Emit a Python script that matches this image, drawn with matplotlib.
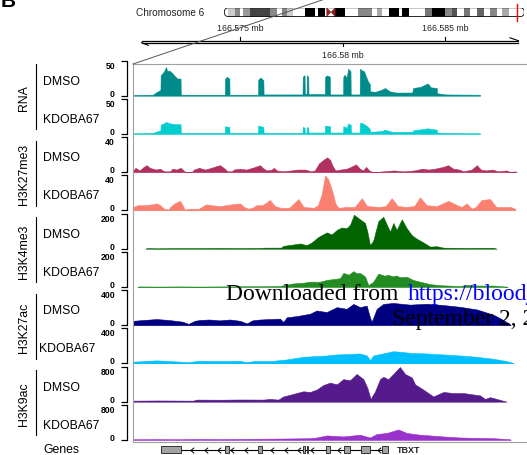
import matplotlib
matplotlib.use('Agg')
import matplotlib.pyplot as plt
from matplotlib.patches import FancyBboxPatch, Polygon
import numpy as np

plt.rcParams['font.family'] = ['Liberation Sans', 'DejaVu Sans']

# ---- data --------------------------------------------------------------
# positions are kb offsets from chr6:166,570,000
chrom_start_mb = 166.570
view_kb = (-0.22, 19.0)

rna_dmso_pos = [-0.2, 0.75, 0.9, 1.12, 1.13, 1.3, 1.39, 1.45, 1.55, 1.7, 1.85, 1.95, 2.1, 2.11,
                4.26, 4.27, 4.35, 4.48, 4.49, 5.88, 5.89, 6.0, 6.14, 6.15,
                8.05, 8.06, 8.12, 8.15, 8.16, 8.25, 8.26, 8.33, 8.34, 9.14, 9.15, 9.25, 9.38, 9.39,
                10.03, 10.04, 10.1, 10.2, 10.28, 10.39, 10.4, 10.84, 10.85, 10.95, 11.05, 11.15,
                11.25, 11.33, 11.34, 11.6, 11.9, 12.07, 12.3, 12.6, 13.4, 13.45, 13.8, 14.16,
                14.3, 14.6, 14.61, 15.0, 16.7, 16.71]
rna_dmso_val = [0.9, 1.4, 4.5, 8.4, 29, 35, 41, 35, 36, 32, 27, 24.5, 24.5, 1.4,
                1.4, 24, 27, 24.5, 1.4, 1.4, 23, 26, 22, 1.8,
                1.8, 27, 29, 29, 2.8, 2.8, 29, 27, 2.3, 2.3, 27, 29, 27, 1.8,
                1.8, 27, 30, 26, 38.5, 35, 1.8, 1.8, 38.5, 36, 35, 27,
                20, 17, 6.3, 5.6, 8.4, 11, 6.3, 4.5, 4.5, 11, 12.6, 17.5,
                12, 11, 3.5, 1.8, 1.4, 0]

rna_kdo_pos = [-0.2, 0.75, 0.9, 1.12, 1.13, 1.39, 1.6, 1.8, 2.1, 2.11,
               4.26, 4.27, 4.48, 4.49, 5.88, 5.89, 6.14, 6.15,
               8.05, 8.06, 8.15, 8.16, 8.25, 8.26, 8.33, 8.34,
               9.14, 9.15, 9.39, 9.4, 10.03, 10.04, 10.2, 10.28, 10.4, 10.41,
               10.84, 10.85, 11.0, 11.2, 11.33, 11.34, 11.9, 12.07, 12.4, 13.4, 13.45,
               14.16, 14.6, 14.61, 15.0, 16.7, 16.71]
rna_kdo_val = [1, 1.5, 3, 5, 13, 17, 15, 14, 14, 1.5,
               1.5, 11, 10, 1.5, 1.5, 12, 10, 1.5,
               1.5, 10, 9, 2, 2, 10, 9, 2,
               2, 12, 11, 2, 2, 11, 9, 15, 13, 2,
               2, 16, 15, 11, 7, 3, 4, 6, 3, 3, 5,
               8, 6, 2, 1.5, 1, 0]

k27me3_dmso_pos = [-0.2, -0.1, 0.1, 0.3, 0.45, 0.6, 0.9, 1.1, 1.3, 1.6, 1.7, 1.9, 2.1, 2.25, 2.35,
                   2.65, 2.75, 3.0, 3.3, 3.6, 3.85, 4.02, 4.2, 4.4, 4.6, 4.7, 5.0, 5.3, 5.6, 5.85,
                   5.98, 6.1, 6.3, 6.55, 6.65, 6.8, 7.1, 7.5, 7.8, 8.2, 8.45, 8.65, 8.85, 9.06,
                   9.25, 9.4, 9.5, 9.65, 9.9, 10.2, 10.5, 10.65, 10.85, 11.0, 11.15, 11.3, 11.5,
                   12.0, 12.5, 13.0, 13.5, 13.9, 14.2, 14.5, 14.9, 15.15, 15.4, 15.7, 15.9, 16.3,
                   16.55, 16.75, 17.0, 17.3, 17.6, 18.0, 18.2, 18.4, 18.5]
k27me3_dmso_val = [2, 5, 2, 6, 8, 5, 3, 4, 1, 1, 4, 3, 5, 2, 0,
                   0, 3, 5, 3, 5, 7, 8, 5, 1, 1, 3, 4, 3, 5, 7,
                   8, 5, 2, 3, 5, 2, 1, 2, 3, 3, 1, 2, 10, 14,
                   17, 14, 8, 2, 3, 4, 7, 9, 4, 2, 6, 2, 0,
                   1, 2, 1, 2, 4, 3, 4, 6, 8, 4, 3, 1, 3,
                   8, 3, 2, 3, 1, 2, 0, 1, 0]

k27me3_kdo_pos = [-0.2, 0.0, 0.4, 0.7, 0.94, 1.1, 1.3, 1.5, 1.6, 1.8, 2.07, 2.2, 2.3, 2.5, 3.0,
                  3.2, 3.37, 3.6, 4.0, 4.3, 4.6, 5.0, 5.2, 5.4, 5.6, 5.8, 6.1, 6.46, 6.7, 7.0,
                  7.4, 7.85, 8.1, 8.6, 8.8, 8.98, 9.15, 9.3, 9.5, 9.65, 9.8, 10.2, 10.6, 10.94,
                  11.2, 11.8, 12.1, 12.4, 12.7, 13.1, 13.5, 13.78, 14.1, 14.6, 15.16, 15.5,
                  15.8, 16.06, 16.3, 16.5, 16.79, 17.2, 17.5, 18.2, 18.4, 18.45]
k27me3_kdo_val = [4, 6, 6, 7, 8, 6, 2, 1, 4, 8, 11, 6, 1, 2, 2,
                  5, 7, 6, 5, 6, 7, 8, 4, 2, 3, 6, 6, 12, 5, 3,
                  3, 13, 4, 3, 6, 18, 40, 36, 22, 8, 3, 4, 4, 14,
                  5, 4, 5, 14, 5, 4, 5, 15, 6, 5, 11, 7,
                  4, 8, 2, 4, 12, 13, 4, 4, 2, 0]

k4me3_dmso_pos = [0.4, 0.45, 1.0, 2.0, 3.0, 4.0, 5.0, 6.0, 6.2, 7.0, 7.11, 7.6, 7.93, 8.25, 8.5,
                  8.82, 9.23, 9.47, 9.72, 9.96, 10.2, 10.37, 10.56, 10.85, 11.1, 11.21, 11.34,
                  11.5, 11.75, 11.99, 12.16, 12.32, 12.48, 12.64, 12.89, 13.13, 13.38, 13.62,
                  13.94, 14.27, 14.6, 14.92, 16.0, 17.36, 17.52]
k4me3_dmso_val = [0, 3, 2, 3, 3, 4, 3, 4, 6, 6, 16, 24, 30, 20, 36,
                  67, 93, 81, 107, 121, 117, 137, 194, 168, 147, 97, 20,
                  46, 158, 182, 137, 97, 147, 107, 168, 117, 77, 57,
                  36, 12, 14, 6, 4, 5, 0]

k4me3_kdo_pos = [0.0, 0.1, 1.0, 2.0, 3.0, 4.0, 5.0, 5.98, 6.95, 7.11, 7.6, 8.09, 8.41, 8.9, 9.23,
                 9.88, 10.04, 10.3, 10.53, 10.69, 10.85, 11.1, 11.26, 11.5, 11.75, 12.07, 12.2,
                 12.48, 12.6, 12.8, 13.13, 13.45, 13.78, 14.27, 14.76, 15.73, 16.06, 16.5,
                 17.36, 18.0, 18.05]
k4me3_kdo_val = [0, 3, 2, 3, 2, 3, 4, 4, 5, 10, 20, 24, 30, 30, 40,
                 50, 80, 70, 90, 78, 80, 60, 10, 30, 76, 64, 70,
                 60, 66, 56, 58, 40, 30, 16, 10, 5, 12, 8,
                 8, 2, 0]

k27ac_dmso_pos = [-0.2, 0.3, 0.94, 1.5, 2.2, 2.48, 2.8, 3.05, 3.5, 4.0, 4.5, 5.0, 5.33, 5.6, 5.98,
                  6.46, 6.95, 7.11, 7.28, 7.8, 8.41, 8.74, 9.23, 9.72, 10.2, 10.53, 10.85, 11.18,
                  11.3, 11.42, 11.67, 11.99, 12.48, 13.29, 14.11, 14.92, 15.73, 16.55, 17.36,
                  17.84, 18.17, 18.2]
k27ac_dmso_val = [50, 60, 70, 60, 40, 15, 50, 60, 65, 55, 65, 50, 20, 55, 65,
                  70, 75, 37, 90, 105, 131, 168, 150, 206, 187, 243, 206, 224,
                  120, 37, 187, 243, 254, 235, 245, 230, 210, 180, 120,
                  60, 10, 0]

k27ac_kdo_pos = [-0.2, 0.5, 0.94, 1.5, 2.48, 3.0, 4.0, 5.0, 5.33, 5.7, 6.5, 7.28, 8.1, 9.23,
                 9.72, 10.85, 11.18, 11.35, 11.5, 12.48, 13.29, 14.11, 14.92, 15.73, 16.55,
                 17.36, 18.0, 18.3, 18.35]
k27ac_kdo_val = [20, 30, 35, 28, 15, 30, 28, 30, 15, 28, 27, 46, 76, 91,
                 103, 114, 91, 38, 91, 140, 122, 114, 103, 91, 76,
                 53, 27, 8, 0]

k9ac_dmso_pos = [-0.2, 1.0, 2.72, 2.89, 4.0, 5.0, 6.14, 6.46, 6.87, 7.11, 7.44, 7.76, 8.09, 8.41,
                 8.74, 9.06, 9.39, 9.72, 10.04, 10.37, 10.69, 11.02, 11.21, 11.37, 11.59, 11.83,
                 11.99, 12.23, 12.48, 12.8, 13.05, 13.38, 13.54, 13.94, 14.43, 14.92, 15.4,
                 15.89, 16.71, 16.95, 17.2, 17.52, 18.0]
k9ac_dmso_val = [24, 28, 24, 48, 45, 50, 48, 63, 48, 119, 158, 198, 238, 222,
                 277, 380, 436, 396, 515, 491, 634, 515, 317, 63, 238, 515,
                 570, 515, 634, 792, 634, 554, 396, 277, 119, 222, 198,
                 198, 143, 63, 103, 63, 0]

k9ac_kdo_pos = [-0.2, 1.0, 2.0, 3.0, 4.0, 5.0, 6.0, 7.0, 8.41, 8.74, 9.23, 10.04, 10.85, 11.34,
                11.67, 12.16, 12.72, 13.13, 13.78, 14.92, 15.73, 17.36, 18.17, 18.2]
k9ac_kdo_val = [16, 20, 16, 24, 20, 24, 28, 32, 40, 56, 104, 80, 120, 56,
                136, 160, 240, 160, 120, 80, 56, 40, 16, 0]

marks = ['RNA', 'H3K27me3', 'H3K4me3', 'H3K27ac', 'H3K9ac']
samples = ['DMSO', 'KDOBA67']
track_colors = ['#008B8B', '#00CDCD', '#B03060', '#FA8072', '#006400', '#228B22',
                '#000080', '#00BFFF', '#551A8B', '#9932CC']
track_max = [50, 50, 40, 40, 200, 200, 400, 400, 800, 800]
track_data = [(rna_dmso_pos, rna_dmso_val), (rna_kdo_pos, rna_kdo_val),
              (k27me3_dmso_pos, k27me3_dmso_val), (k27me3_kdo_pos, k27me3_kdo_val),
              (k4me3_dmso_pos, k4me3_dmso_val), (k4me3_kdo_pos, k4me3_kdo_val),
              (k27ac_dmso_pos, k27ac_dmso_val), (k27ac_kdo_pos, k27ac_kdo_val),
              (k9ac_dmso_pos, k9ac_dmso_val), (k9ac_kdo_pos, k9ac_kdo_val)]

# TBXT exons (kb), minus strand
exon_start = [1.13, 4.28, 5.89, 8.07, 8.26, 9.18, 10.08, 10.88, 11.92]
exon_end = [2.13, 4.46, 6.05, 8.15, 8.33, 9.37, 10.36, 11.34, 12.2]
gene_name = 'TBXT'

ruler_ticks_kb = [5, 10, 15]

# chromosome 6 ideogram (Mb)
chrom_len = 170.8
band_start = [2.3, 6.1, 10.8, 14.6, 26.0, 32.7, 35.5, 46.0, 53.6, 63.1, 76.4, 86.8, 93.5,
              101.1, 114.4, 118.2, 125.8, 129.6, 136.2, 143.8, 151.4, 158.1]
band_end = [6.1, 8.9, 14.6, 26.0, 29.8, 35.5, 39.3, 51.7, 57.4, 68.8, 84.0, 89.7, 99.2,
            104.9, 118.2, 125.8, 129.6, 132.4, 140.0, 147.6, 155.2, 161.9]
band_color = ['#cccccc', '#888888', '#999999', '#444444', '#888888', '#888888', '#cccccc',
              '#000000', '#000000', '#000000', '#888888', '#aaaaaa', '#000000', '#000000',
              '#777777', '#000000', '#888888', '#555555', '#777777', '#666666', '#888888',
              '#aaaaaa']
centromere = (58.3, 63.1)

# ---- layout ------------------------------------------------------------
W, H = 527, 456
fig = plt.figure(figsize=(W / 100, H / 100), dpi=100)


def rect(x0, y0, x1, y1):
    return [x0 / W, 1 - y1 / H, (x1 - x0) / W, (y1 - y0) / H]


track_top = [61.7 + 38.25 * i for i in range(10)]
track_h = 35
panel_left = 133

# data tracks
for i, (pos, val) in enumerate(track_data):
    top = track_top[i]
    ax = fig.add_axes(rect(panel_left, top, W, top + track_h))
    c = track_colors[i]
    ax.fill_between(pos, val, 0, color=c, edgecolor=c, linewidth=0.4)
    ax.set_xlim(view_kb)
    ax.set_ylim(0, track_max[i])
    ax.patch.set_alpha(0)
    for s in ['top', 'right', 'bottom']:
        ax.spines[s].set_visible(False)
    ax.spines['left'].set_position(('outward', 4))
    ax.spines['left'].set_bounds(0, track_max[i])
    ax.spines['left'].set_linewidth(0.9)
    ax.set_xticks([])
    ax.set_yticks([0, track_max[i]])
    ax.set_yticklabels(['0', str(track_max[i])], fontsize=6.2, fontweight='bold')
    ax.get_yticklabels()[0].set_va('baseline')
    ax.get_yticklabels()[1].set_va('top')
    ax.tick_params(axis='y', length=4.5, width=0.9, pad=4.5)

# genome ruler
rax = fig.add_axes(rect(panel_left, 20, W, 62))
rax.set_xlim(view_kb)
rax.set_ylim(62, 20)
rax.axis('off')
rax.plot([0.2, 18.58], [41.7, 41.7], color='black', lw=0.9)
rax.plot([0.2, 18.58], [43.7, 43.7], color='black', lw=0.9)
rax.plot([18.17, 18.58], [38.8, 41.7], color='black', lw=0.8)
rax.plot([0.2, 0.53], [43.7, 46.3], color='black', lw=0.8)
for j, t in enumerate(ruler_ticks_kb):
    lab = f'{chrom_start_mb + t / 1000:g} mb'
    if j % 2 == 0:
        rax.plot([t, t], [41.7, 38.3], color='black', lw=0.8)
        rax.text(t, 28.5, lab, ha='center', va='center', fontsize=6.3, color='#222222')
    else:
        rax.plot([t, t], [43.7, 47.3], color='black', lw=0.8)
        rax.text(t, 55.5, lab, ha='center', va='center', fontsize=6.3, color='#222222')

# ideogram
iax = fig.add_axes(rect(224.3, 8.8, 524.3, 17.6))
iax.set_xlim(0, chrom_len)
iax.set_ylim(0, 1)
iax.axis('off')
bg = FancyBboxPatch((0, 0), chrom_len, 1, boxstyle='round,pad=0,rounding_size=2.5',
                    mutation_aspect=0.2, facecolor='white', edgecolor='none', zorder=1)
iax.add_patch(bg)
bars = iax.bar(band_start, 1, width=np.subtract(band_end, band_start), bottom=0,
               align='edge', color=band_color, linewidth=0, zorder=2)
for b in bars:
    b.set_clip_path(bg)
cmid = (centromere[0] + centromere[1]) / 2
iax.add_patch(Polygon([(centromere[0], 0), (centromere[0], 1), (cmid, 0.5)],
                      facecolor='#8B2323', edgecolor='#8B2323', lw=0.3, zorder=3))
iax.add_patch(Polygon([(centromere[1], 0), (centromere[1], 1), (cmid, 0.5)],
                      facecolor='#8B2323', edgecolor='#8B2323', lw=0.3, zorder=3))
iax.add_patch(FancyBboxPatch((0, 0), chrom_len, 1, boxstyle='round,pad=0,rounding_size=2.5',
                             mutation_aspect=0.2, facecolor='none', edgecolor='black',
                             lw=0.6, zorder=4))
region_mb = chrom_start_mb + (view_kb[0] + view_kb[1]) / 2000
iax.plot([region_mb, region_mb], [-0.45, 1.45], color='red', lw=1, zorder=5, clip_on=False)

# gene model
gax = fig.add_axes(rect(panel_left, 444, W, 457))
gax.set_xlim(view_kb)
gax.set_ylim(0, 1)
gax.axis('off')
gax.plot([exon_end[0], exon_start[-1]], [0.5, 0.5], color='black', lw=0.8, zorder=1)
chev = [(0.6, 1), (-0.6, 0), (0.6, -1)]
for a, b in zip(exon_end[:-1], exon_start[1:]):
    for p in np.arange(exon_end[0] + 0.55, exon_start[-1], 0.65):
        if a + 0.15 < p < b - 0.12:
            gax.plot(p, 0.5, marker=chev, ms=4, mfc='none', mec='black', mew=0.7, zorder=2)
gax.bar(exon_start, 0.6, width=np.subtract(exon_end, exon_start), bottom=0.2, align='edge',
        color='#a3a3a3', edgecolor='#333333', linewidth=0.7, zorder=3)
gax.text(exon_end[-1] + 0.45, 0.5, gene_name, fontsize=6.5, fontweight='bold',
         ha='left', va='center', color='#222222')

# overlay: labels, frame, zoom line, watermark
ov = fig.add_axes([0, 0, 1, 1], zorder=10)
ov.set_xlim(0, W)
ov.set_ylim(H, 0)
ov.axis('off')

frame_c = '#a0a0a0'
ov.plot([panel_left, W], [65, 65], color=frame_c, lw=0.8)
ov.plot([panel_left, panel_left], [65, 443], color=frame_c, lw=0.8)
ov.plot([panel_left, W], [443, 443], color=frame_c, lw=0.8)
ov.plot([panel_left, 328], [65, -1], color='#555555', lw=0.7)

sample_x = [43] * 10
sample_x[7] = 38.5
for g, m in enumerate(marks):
    t0 = track_top[2 * g]
    t1 = track_top[2 * g + 1] + track_h
    ov.text(24, (t0 + t1) / 2, m, rotation=90, ha='center', va='center', fontsize=8.8)
    ov.plot([36, 36], [t0 + 3.5, t1 - 4.5], color='black', lw=0.8)
for i in range(10):
    ov.text(sample_x[i], track_top[i] + track_h / 2 + 2.5, samples[i % 2],
            ha='left', va='center', fontsize=8.8)
ov.text(43, 450.5, 'Genes', ha='left', va='center', fontsize=8.8)
ov.text(170, 13.5, 'Chromosome 6', ha='center', va='center', fontsize=7.2, color='#222222')
ov.text(1, 7, 'B', ha='left', va='baseline', fontsize=15, fontweight='bold')

ov.text(226, 300.5, 'Downloaded from ', ha='left', va='baseline', fontsize=17,
        family='Liberation Serif', color='black')
ov.text(408, 300.5, 'https://bloodjournal.org', ha='left', va='baseline', fontsize=17,
        family='Liberation Serif', color='#0000ff')
ov.text(392, 325, 'September 2, 2021', ha='left', va='baseline', fontsize=17,
        family='Liberation Serif', color='black')

fig.savefig('out.png', dpi=100)
